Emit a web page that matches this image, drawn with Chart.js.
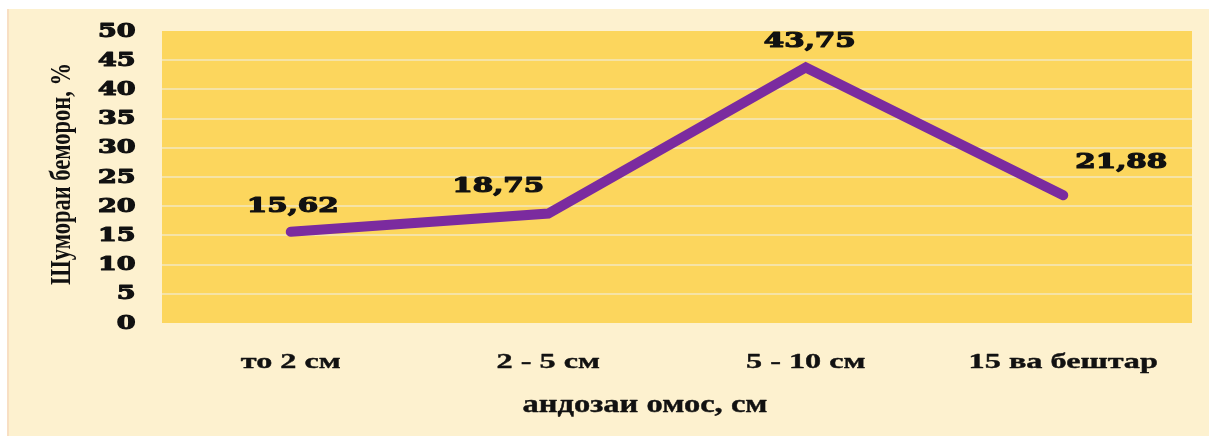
<!DOCTYPE html>
<html>
<head>
<meta charset="utf-8">
<script src="https://cdn.jsdelivr.net/npm/chart.js@4"></script>
<style>
  html, body { margin: 0; padding: 0; background: #ffffff; }
  #wrap { width: 1209px; height: 436px; position: relative; }
</style>
</head>
<body>
<div id="wrap"><canvas id="c" width="1209" height="436"></canvas></div>
<script>
// ---- data ----
const categories = ['то 2 см', '2 - 5 см', '5 - 10 см', '15 ва бештар'];
const values = [15.62, 18.75, 43.75, 21.88];
const yTickValues = [0, 5, 10, 15, 20, 25, 30, 35, 40, 45, 50];
const yTitle = 'Шумораи беморон, %';
const xTitle = 'андозаи омос, см';

const W = 1209, H = 436;

function stretchText(ctx, text, x, y, sx, align, stroke) {
  ctx.save();
  ctx.translate(x, y);
  ctx.scale(sx, 1);
  ctx.textAlign = align;
  ctx.textBaseline = 'middle';
  if (stroke) {
    ctx.lineWidth = stroke;
    ctx.lineJoin = 'round';
    ctx.strokeText(text, 0, 0);
  }
  ctx.fillText(text, 0, 0);
  ctx.restore();
}

const decoPlugin = {
  id: 'deco',
  beforeDraw(chart) {
    const { ctx, chartArea: a } = chart;
    ctx.save();
    ctx.fillStyle = '#ffffff';
    ctx.fillRect(0, 0, W, H);
    ctx.fillStyle = '#fdf1cf';
    ctx.fillRect(7, 9, W - 7, H - 9);
    ctx.fillStyle = '#f8dfc3';
    ctx.fillRect(7, 9, 2, H - 9);
    ctx.fillStyle = '#fcd65d';
    ctx.fillRect(a.left, a.top, a.right - a.left, a.bottom - a.top);
    ctx.restore();
  },
  afterDraw(chart, args, opts) {
    const { ctx } = chart;
    const yScale = chart.scales.y;
    const xScale = chart.scales.x;
    ctx.save();
    ctx.fillStyle = '#111111';
    ctx.strokeStyle = '#111111';
    // y tick labels (wide heavy face)
    ctx.font = 'bold 18px "DejaVu Serif"';
    yScale.ticks.forEach(t => {
      stretchText(ctx, String(t.value), 135.5, yScale.getPixelForValue(t.value) + 1, 1.5, 'right', 1.1);
    });
    // x category labels (stretched serif bold)
    ctx.font = 'bold 22px "Liberation Serif"';
    const sxX = 100 / ctx.measureText(categories[0]).width;
    categories.forEach((c, i) => {
      stretchText(ctx, c, xScale.getPixelForValue(i), 362, sxX, 'center', 0.4);
    });
    // data labels
    ctx.font = 'bold 21px "DejaVu Serif"';
    const meta = chart.getDatasetMeta(0);
    meta.data.forEach((pt, i) => {
      const off = opts.labelOffsets[i];
      const txt = values[i].toFixed(2).replace('.', ',');
      stretchText(ctx, txt, pt.x + off[0], pt.y + off[1], 1.4, 'center', 1.2);
    });
    // y title (rotated serif, widened across)
    ctx.font = 'bold 22px "Liberation Serif"';
    const tw = ctx.measureText(yTitle).width;
    ctx.save();
    ctx.translate(62, 174);
    ctx.scale(1.35, 1);
    ctx.rotate(-Math.PI / 2);
    ctx.scale(222 / tw, 1);
    ctx.textAlign = 'center';
    ctx.textBaseline = 'middle';
    ctx.fillText(yTitle, 0, 0);
    ctx.restore();
    // x title
    ctx.font = 'bold 25px "Liberation Serif"';
    const xw = ctx.measureText(xTitle).width;
    stretchText(ctx, xTitle, 645, 406, 245 / xw, 'center', 0.4);
    ctx.restore();
  }
};

new Chart(document.getElementById('c'), {
  type: 'line',
  data: {
    labels: categories,
    datasets: [{
      data: values,
      borderColor: '#7b2b9f',
      backgroundColor: '#7b2b9f',
      borderWidth: 10,
      borderCapStyle: 'round',
      borderJoinStyle: 'miter',
      pointRadius: 0,
      tension: 0,
      fill: false
    }]
  },
  plugins: [decoPlugin],
  options: {
    responsive: false,
    animation: false,
    devicePixelRatio: 1,
    layout: { padding: { top: 31, right: 17, left: 0, bottom: 0 } },
    plugins: {
      legend: { display: false },
      tooltip: { enabled: false },
      deco: { labelOffsets: [[2, -25], [-50, -27], [4, -26], [58, -33]] }
    },
    scales: {
      x: {
        offset: true,
        grid: { display: false, drawTicks: false },
        border: { display: false },
        ticks: { display: false },
        afterFit(s) { s.height = 113; }
      },
      y: {
        min: 0,
        max: 50,
        afterBuildTicks(s) { s.ticks = yTickValues.map(v => ({ value: v })); },
        grid: {
          drawTicks: false,
          lineWidth: 2,
          color: ctx => (ctx.tick && (ctx.tick.value === 0 || ctx.tick.value === 50)) ? 'rgba(0,0,0,0)' : '#f5e3a6'
        },
        border: { display: false },
        ticks: { display: false },
        afterFit(s) { s.width = 162; }
      }
    }
  }
});
</script>
</body>
</html>
